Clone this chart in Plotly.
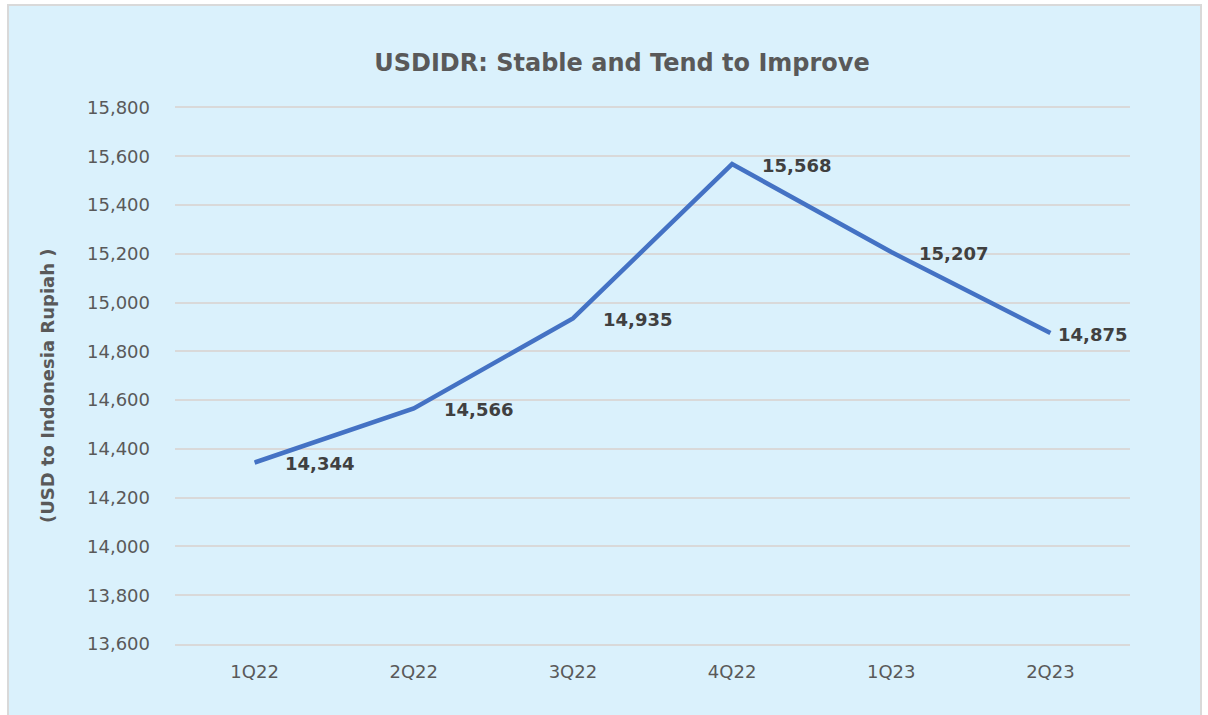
import plotly.graph_objects as go

# ======================
# DATA
# ======================
quarters = ["1Q22", "2Q22", "3Q22", "4Q22", "1Q23", "2Q23"]
usdidr = [14344, 14566, 14935, 15568, 15207, 14875]
label_shift = [30, 30, 30, 30, 28, 8]   # px offset of each data label to the right

FONT = "DejaVu Sans"
GRID = "#D9D9D9"
BG = "#DAF1FC"

fig = go.Figure()

fig.add_trace(go.Scatter(
    x=quarters,
    y=usdidr,
    mode="lines",
    line=dict(color="#4472C4", width=4.5),
    hoverinfo="x+y",
    showlegend=False,
))

# data labels (Excel style: right of the point)
for q, v, dx in zip(quarters, usdidr, label_shift):
    fig.add_annotation(
        x=q, y=v, text=f"{v:,}",
        showarrow=False, xanchor="left", yanchor="middle",
        xshift=dx - 2, yshift=-1,
        font=dict(family=FONT, size=18, color="#404040", weight="bold"),
    )

# plot area: x 175..1130, y 106..644 (pixels)
PH = 538

# y axis title
fig.add_annotation(
    xref="paper", yref="paper", x=(47 - 175) / 955, y=(644 - 386) / PH,
    text="(USD to Indonesia Rupiah )", textangle=-90, showarrow=False,
    xanchor="center", yanchor="middle",
    font=dict(family=FONT, size=18, color="#595959", weight="bold"),
)

# chart border / background
fig.add_shape(
    type="rect", xref="paper", yref="paper", layer="below",
    x0=(8 - 175) / 955, x1=(1201 - 175) / 955,
    y0=(644 - 720) / PH, y1=(644 - 5) / PH,
    fillcolor=BG, line=dict(color="#D9D9D9", width=2),
)

fig.update_layout(
    width=1208, height=715,
    paper_bgcolor="white",
    plot_bgcolor="rgba(0,0,0,0)",
    margin=dict(l=175, r=78, t=106, b=71, autoexpand=False),
    title=dict(
        text="<b>USDIDR: Stable and Tend to Improve</b>",
        x=622 / 1208, xanchor="center", xref="container",
        y=1 - 63 / 715, yanchor="middle", yref="container",
        font=dict(family=FONT, size=24, color="#595959"),
    ),
    xaxis=dict(
        range=[-0.5, 5.5], automargin=False,
        showgrid=False, showline=True, linecolor=GRID, linewidth=1.5,
        ticks="", ticklabelstandoff=11,
        tickfont=dict(family=FONT, size=18, color="#595959"),
    ),
    yaxis=dict(
        # small headroom so the 15,800 gridline is not dropped at the range edge
        range=[13600, 15806], dtick=200, tickformat=",", automargin=False,
        showgrid=True, gridcolor=GRID, gridwidth=1.5,
        zeroline=False, showline=False, ticks="", ticklabelstandoff=24,
        tickfont=dict(family=FONT, size=18, color="#595959"),
    ),
)

# drop the default 8px page margin so the figure sits at the window origin
fig.write_html(
    "out.html",
    config={"displayModeBar": False},
    post_script="document.body.style.margin='0px';",
)
